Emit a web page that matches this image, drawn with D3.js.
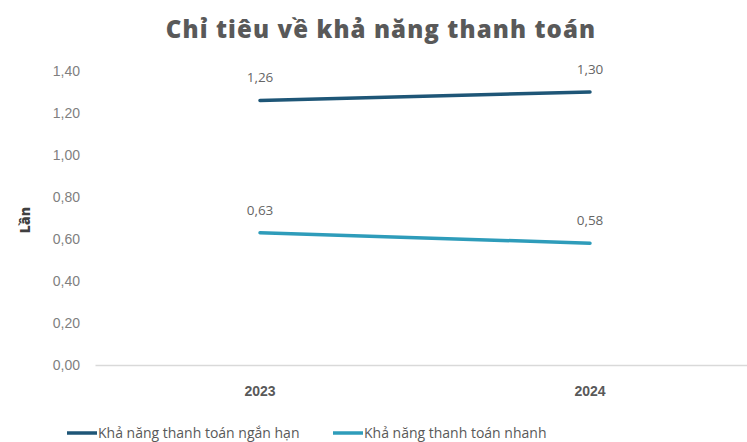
<!DOCTYPE html>
<html>
<head>
<meta charset="utf-8">
<script src="https://cdn.jsdelivr.net/npm/d3@7"></script>
<style>
  body { margin: 0; background: #fff; }
  svg { font-family: "Open Sans", "Lato", sans-serif; }
</style>
</head>
<body>
<svg class="chart" width="747" height="442"></svg>
<script>
var years = ["2023", "2024"];
var nganHan = [1.26, 1.30];
var nhanh = [0.63, 0.58];
var yTicks = [0, 0.2, 0.4, 0.6, 0.8, 1.0, 1.2, 1.4];
var seriesNames = ["Khả năng thanh toán ngắn hạn", "Khả năng thanh toán nhanh"];
var colors = ["#1e5677", "#2e9cba"];

var margin = {top: 71, right: 0, bottom: 77, left: 95},
    width = 660,
    height = 442 - margin.top - margin.bottom;

var fmt = function(v) { return d3.format(".2f")(v).replace(".", ","); };

var x = d3.scaleBand().domain(years).range([0, width]);
var y = d3.scaleLinear().domain([0, 1.4]).range([height, 0]);

var svg = d3.select("svg.chart");

svg.append("text")
  .attr("x", 381).attr("y", 38)
  .attr("text-anchor", "middle")
  .attr("font-size", 24).attr("font-weight", 800)
  .attr("letter-spacing", 1.1)
  .attr("fill", "#595959")
  .text("Chỉ tiêu về khả năng thanh toán");

var g = svg.append("g")
  .attr("transform", "translate(" + margin.left + "," + margin.top + ")");

// y axis labels
var yAxis = g.append("g")
  .call(d3.axisLeft(y).tickValues(yTicks).tickFormat(fmt).tickSize(0).tickPadding(15));
yAxis.select(".domain").remove();
yAxis.selectAll("text").attr("fill", "#7f7f7f").attr("font-size", 14);

// x axis
var xAxis = g.append("g")
  .attr("transform", "translate(0," + height + ")")
  .call(d3.axisBottom(x).tickSize(0).tickPadding(21));
xAxis.select(".domain").attr("stroke", "#d9d9d9").attr("stroke-width", 1.5);
xAxis.selectAll("text").attr("fill", "#595959").attr("font-size", 14).attr("font-weight", 800);

svg.append("text")
  .attr("transform", "translate(30,220) rotate(-90)")
  .attr("text-anchor", "middle")
  .attr("font-size", 14).attr("font-weight", 800)
  .attr("fill", "#404040")
  .text("Lần");

var series = [nganHan, nhanh];
var line = d3.line()
  .x(function(d, i) { return x(years[i]) + x.bandwidth() / 2; })
  .y(function(d) { return y(d); });

series.forEach(function(s, k) {
  g.append("path")
    .datum(s)
    .attr("fill", "none")
    .attr("stroke", colors[k])
    .attr("stroke-width", 3.5)
    .attr("stroke-linecap", "round")
    .attr("d", line);

  g.selectAll(".lbl" + k)
    .data(s)
    .enter().append("text")
    .attr("x", function(d, i) { return x(years[i]) + x.bandwidth() / 2; })
    .attr("y", function(d) { return y(d) - 18; })
    .attr("text-anchor", "middle")
    .attr("font-size", 13.5)
    .attr("fill", "#666")
    .text(fmt);
});

// legend
var legendX = [67, 333];
seriesNames.forEach(function(name, k) {
  var lg = svg.append("g").attr("transform", "translate(" + legendX[k] + ",433)");
  lg.append("line")
    .attr("x1", 0).attr("x2", 30).attr("y1", 0).attr("y2", 0)
    .attr("stroke", colors[k]).attr("stroke-width", 3.5);
  lg.append("text")
    .attr("x", 31).attr("y", 5)
    .attr("font-size", 14)
    .attr("fill", "#595959")
    .text(name);
});
</script>
</body>
</html>
